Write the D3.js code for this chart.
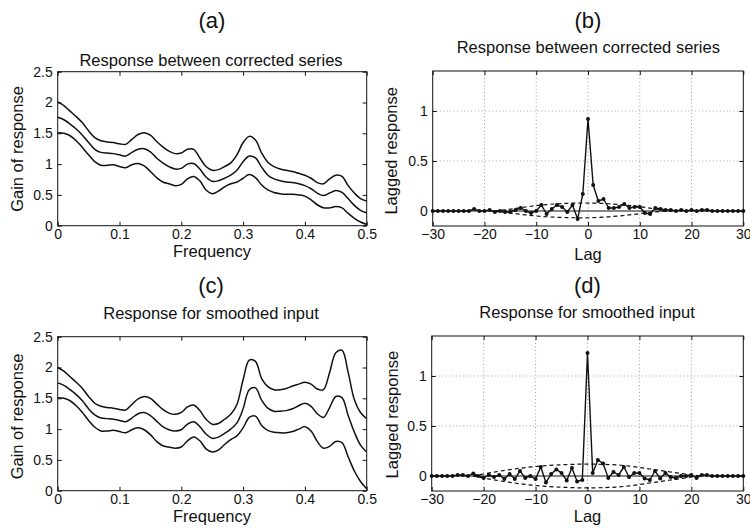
<!DOCTYPE html>
<html>
<head>
<meta charset="utf-8">
<script src="https://cdn.jsdelivr.net/npm/d3@7/dist/d3.min.js"></script>
<style>
  html, body { margin: 0; padding: 0; background: #fff; }
  svg { display: block; }
  text { font-family: "Liberation Sans", Arial, Helvetica, sans-serif; fill: #111; }
</style>
</head>
<body>
<svg id="chart" width="750" height="531"></svg>
<script>
// ---------------- DATA ----------------
const freq = [0,0.01,0.02,0.03,0.04,0.05,0.06,0.07,0.08,0.09,0.10,0.11,0.12,0.13,0.14,0.15,0.16,0.17,0.18,0.19,0.20,
  0.21,0.22,0.23,0.24,0.25,0.26,0.27,0.28,0.29,0.30,0.31,0.32,0.33,0.34,0.35,0.36,0.37,0.38,0.39,0.40,
  0.41,0.42,0.43,0.44,0.45,0.46,0.47,0.48,0.49,0.50];

const gainAUpper = [2.01,1.95,1.86,1.77,1.67,1.54,1.43,1.38,1.36,1.35,1.33,1.32,1.40,1.48,1.51,1.47,1.37,1.28,1.21,1.17,1.18,
  1.24,1.24,1.10,0.96,0.90,0.91,0.96,1.02,1.15,1.35,1.45,1.39,1.18,1.03,0.96,0.92,0.90,0.88,0.85,0.82,
  0.77,0.70,0.68,0.76,0.82,0.80,0.65,0.53,0.44,0.40];
const gainAMid = [1.76,1.72,1.65,1.57,1.47,1.35,1.24,1.19,1.18,1.17,1.15,1.13,1.19,1.24,1.25,1.20,1.10,1.02,0.96,0.92,0.93,
  1.00,1.01,0.92,0.79,0.72,0.73,0.77,0.82,0.90,1.04,1.13,1.10,0.95,0.82,0.76,0.73,0.71,0.70,0.68,0.65,
  0.60,0.53,0.49,0.53,0.57,0.54,0.44,0.33,0.25,0.21];
const gainALower = [1.51,1.50,1.46,1.38,1.27,1.15,1.04,0.98,0.98,0.99,0.96,0.94,0.99,1.01,0.97,0.88,0.78,0.71,0.68,0.65,0.67,
  0.76,0.80,0.73,0.58,0.52,0.56,0.63,0.68,0.71,0.77,0.83,0.78,0.66,0.58,0.54,0.52,0.51,0.51,0.50,0.48,
  0.42,0.34,0.29,0.29,0.31,0.29,0.20,0.12,0.06,0.02];

const gainCUpper = [2.00,1.94,1.85,1.76,1.66,1.53,1.42,1.37,1.35,1.34,1.32,1.31,1.40,1.49,1.53,1.50,1.41,1.32,1.26,1.24,1.27,
  1.36,1.39,1.30,1.16,1.08,1.09,1.16,1.24,1.40,1.80,2.12,2.10,1.82,1.69,1.64,1.64,1.66,1.70,1.73,1.76,
  1.73,1.65,1.64,1.92,2.24,2.28,1.92,1.48,1.27,1.17];
const gainCMid = [1.75,1.71,1.64,1.56,1.46,1.33,1.23,1.18,1.17,1.16,1.14,1.12,1.18,1.25,1.27,1.22,1.13,1.04,0.99,0.97,0.99,
  1.08,1.12,1.04,0.92,0.85,0.87,0.93,1.00,1.10,1.33,1.64,1.67,1.47,1.34,1.29,1.29,1.30,1.33,1.38,1.42,
  1.37,1.25,1.19,1.35,1.53,1.51,1.22,0.95,0.74,0.63];
const gainCLower = [1.51,1.50,1.46,1.38,1.27,1.14,1.03,0.97,0.97,0.98,0.96,0.94,0.99,1.02,0.99,0.91,0.80,0.73,0.71,0.69,0.71,
  0.81,0.87,0.81,0.68,0.63,0.66,0.75,0.83,0.89,1.02,1.19,1.21,1.06,0.98,0.95,0.94,0.94,0.96,1.00,1.04,
  0.97,0.80,0.69,0.72,0.80,0.78,0.55,0.32,0.15,0.03];

const lags = [-30,-29,-28,-27,-26,-25,-24,-23,-22,-21,-20,-19,-18,-17,-16,-15,-14,-13,-12,-11,-10,
  -9,-8,-7,-6,-5,-4,-3,-2,-1,0,1,2,3,4,5,6,7,8,9,10,11,12,13,14,15,16,17,18,19,20,
  21,22,23,24,25,26,27,28,29,30];

const respB = [0,0,0,0,0,0,0,0,0.02,0.00,0.00,0.01,-0.01,0.00,-0.01,-0.01,0.01,0.03,0.00,-0.02,0.00,
  0.06,-0.03,0.02,0.06,0.04,-0.01,0.06,-0.08,0.17,0.92,0.26,0.10,0.12,0.03,0.03,0.04,0.07,0.03,0.04,0.04,
  -0.02,-0.03,0.03,0.02,0.01,0.01,0.00,0.01,0.00,0.01,0.00,0.01,0.01,0.00,0,0,0,0,0,0];

const respD = [0,0,0,0,0,0.01,0.01,0.00,0.025,0.00,-0.02,0.01,-0.01,0.01,-0.03,0.02,-0.03,0.05,-0.02,0.00,-0.03,
  0.09,-0.065,0.02,0.065,0.03,-0.045,0.08,-0.055,-0.04,1.23,0.03,0.16,0.125,-0.02,0.04,0.01,0.09,-0.01,0.03,0.03,
  -0.025,-0.04,0.05,-0.025,0.03,-0.01,-0.02,0.00,0.00,0.01,-0.02,0.01,0.01,0.00,0,0,0,0,0,0];

const boundLagsB = [-18,-16,-14,-12,-10,-8,-6,-4,-2,0,2,4,6,8,10,12,14,16];
const boundBUpper = [0.0,0.012,0.026,0.04,0.055,0.065,0.072,0.077,0.08,0.08,0.078,0.073,0.065,0.055,0.045,0.028,0.012,0.0];
const boundBLower = [0.0,-0.013,-0.027,-0.04,-0.05,-0.058,-0.063,-0.066,-0.068,-0.068,-0.065,-0.058,-0.05,-0.04,-0.026,-0.012,-0.004,0.0];

const boundLagsD = [-22,-20,-18,-16,-14,-12,-10,-8,-6,-4,-2,0,2,4,6,8,10,12,14,16,18,20,22];
const boundDUpper = [0.0,0.02,0.04,0.055,0.07,0.085,0.095,0.105,0.11,0.115,0.118,0.12,0.118,0.115,0.11,0.10,0.085,0.07,0.055,0.04,0.025,0.01,0.0];
const boundDLower = [0.0,-0.02,-0.04,-0.055,-0.07,-0.085,-0.095,-0.105,-0.11,-0.115,-0.118,-0.12,-0.118,-0.115,-0.11,-0.10,-0.085,-0.07,-0.055,-0.04,-0.025,-0.01,0.0];

const gainTicksY = [0,0.5,1,1.5,2,2.5];
const freqTicks = [0,0.1,0.2,0.3,0.4,0.5];
const lagTicksX = [-30,-20,-10,0,10,20,30];
const lagTicksY = [0,0.5,1];

// ---------------- DRAW ----------------
const svg = d3.select("#chart");
const fmt = d => (d < 0 ? "\u2212" + Math.abs(d) : String(d));

function frame(g, x, y, xTicks, yTicks) {
  const [x0, x1] = x.range(), [y0, y1] = y.range();
  const tl = 4;
  g.append("g").attr("transform", `translate(0,${y0})`)
    .call(d3.axisBottom(x).tickValues(xTicks).tickSizeInner(-tl).tickSizeOuter(0).tickPadding(3.3).tickFormat(fmt))
    .call(a => a.select(".domain").remove())
    .call(a => a.selectAll("text").attr("font-size", 14).style("font-family", "Liberation Sans, Arial, sans-serif"));
  g.append("g").attr("transform", `translate(0,${y1})`)
    .call(d3.axisTop(x).tickValues(xTicks).tickSizeInner(-tl).tickSizeOuter(0).tickFormat(""))
    .call(a => a.select(".domain").remove());
  g.append("g").attr("transform", `translate(${x0},0)`)
    .call(d3.axisLeft(y).tickValues(yTicks).tickSizeInner(-tl).tickSizeOuter(0).tickPadding(5).tickFormat(fmt))
    .call(a => a.select(".domain").remove())
    .call(a => a.selectAll("text").attr("font-size", 14).style("font-family", "Liberation Sans, Arial, sans-serif"));
  g.append("g").attr("transform", `translate(${x1},0)`)
    .call(d3.axisRight(y).tickValues(yTicks).tickSizeInner(-tl).tickSizeOuter(0).tickFormat(""))
    .call(a => a.select(".domain").remove());
  g.selectAll(".tick line").attr("stroke", "#111");
  g.append("rect").attr("x", x0).attr("y", y1).attr("width", x1 - x0).attr("height", y0 - y1)
    .attr("fill", "none").attr("stroke", "#111").attr("stroke-width", 1);
}

function labels(cfg) {
  svg.append("text").attr("x", cfg.tx).attr("y", cfg.ty).attr("text-anchor", "middle")
    .attr("font-size", 22).text(cfg.letter);
  svg.append("text").attr("x", cfg.sx).attr("y", cfg.sy).attr("text-anchor", "middle")
    .attr("font-size", 16.5).text(cfg.subtitle);
  svg.append("text").attr("x", cfg.xlx).attr("y", cfg.xly).attr("text-anchor", "middle")
    .attr("font-size", 16.5).text(cfg.xlabel);
  svg.append("text").attr("transform", `translate(${cfg.ylx},${cfg.yly}) rotate(-90)`)
    .attr("text-anchor", "middle").attr("font-size", 16.5).text(cfg.ylabel);
}

function gainPanel(box, series, cfg) {
  const g = svg.append("g");
  const x = d3.scaleLinear().domain([0, 0.5]).range([box.l, box.r]);
  const y = d3.scaleLinear().domain([0, 2.5]).range([box.b, box.t]);
  const line = d3.line().x((d, i) => x(freq[i])).y(d => y(d)).curve(d3.curveCatmullRom);
  const clipId = "clip" + cfg.letter.replace(/\W/g, "");
  svg.append("clipPath").attr("id", clipId).append("rect")
    .attr("x", box.l).attr("y", box.t).attr("width", box.r - box.l).attr("height", box.b - box.t);
  series.forEach(s => {
    g.append("path").datum(s).attr("d", line).attr("fill", "none")
      .attr("stroke", "#111").attr("stroke-width", 1.5).attr("clip-path", `url(#${clipId})`);
  });
  frame(g, x, y, freqTicks, gainTicksY);
  labels(cfg);
}

function lagPanel(box, resp, bLags, bUp, bLo, cfg) {
  const g = svg.append("g");
  const x = d3.scaleLinear().domain([-30, 30]).range([box.l, box.r]);
  const y = d3.scaleLinear().domain([-0.15, 1.4]).range([box.b, box.t]);
  const grid = g.append("g").attr("stroke", "#888").attr("stroke-width", 0.8).attr("stroke-dasharray", "1,2.5");
  lagTicksX.slice(1, -1).forEach(t => grid.append("line").attr("x1", x(t)).attr("x2", x(t)).attr("y1", box.t).attr("y2", box.b));
  lagTicksY.slice(1).forEach(t => grid.append("line").attr("x1", box.l).attr("x2", box.r).attr("y1", y(t)).attr("y2", y(t)));
  g.append("line").attr("x1", x(-30)).attr("x2", x(30)).attr("y1", y(0)).attr("y2", y(0))
    .attr("stroke", "#111").attr("stroke-width", 1);
  const bl = d3.line().x((d, i) => x(bLags[i])).y(d => y(d)).curve(d3.curveBasis);
  [bUp, bLo].forEach(s => g.append("path").datum(s).attr("d", bl).attr("fill", "none")
    .attr("stroke", "#111").attr("stroke-width", 1.2).attr("stroke-dasharray", "4,3"));
  const rl = d3.line().x((d, i) => x(lags[i])).y(d => y(d));
  g.append("path").datum(resp).attr("d", rl).attr("fill", "none").attr("stroke", "#111").attr("stroke-width", 1.4);
  g.selectAll("circle.pt").data(resp).join("circle").attr("class", "pt")
    .attr("cx", (d, i) => x(lags[i])).attr("cy", d => y(d)).attr("r", 2).attr("fill", "#111");
  frame(g, x, y, lagTicksX, lagTicksY);
  labels(cfg);
}

gainPanel({l: 57.7, r: 366.7, t: 71.7, b: 225.7}, [gainAUpper, gainAMid, gainALower], {
  letter: "(a)", tx: 212, ty: 27.5,
  subtitle: "Response between corrected series", sx: 211, sy: 65.5,
  xlabel: "Frequency", xlx: 212, xly: 257,
  ylabel: "Gain of response", ylx: 22.5, yly: 149
});
lagPanel({l: 432.7, r: 743.3, t: 71, b: 226}, respB, boundLagsB, boundBUpper, boundBLower, {
  letter: "(b)", tx: 588, ty: 27.5,
  subtitle: "Response between corrected series", sx: 588.3, sy: 52.7,
  xlabel: "Lag", xlx: 588, xly: 260,
  ylabel: "Lagged response", ylx: 397, yly: 150.8
});
gainPanel({l: 57.7, r: 366.7, t: 336.7, b: 490.7}, [gainCUpper, gainCMid, gainCLower], {
  letter: "(c)", tx: 211, ty: 292.5,
  subtitle: "Response for smoothed input", sx: 211, sy: 319.3,
  xlabel: "Frequency", xlx: 212, xly: 522,
  ylabel: "Gain of response", ylx: 22.5, yly: 416.5
});
lagPanel({l: 431.7, r: 743.3, t: 336, b: 491}, respD, boundLagsD, boundDUpper, boundDLower, {
  letter: "(d)", tx: 587.5, ty: 292.5,
  subtitle: "Response for smoothed input", sx: 587, sy: 318.3,
  xlabel: "Lag", xlx: 587.5, xly: 522,
  ylabel: "Lagged response", ylx: 398, yly: 414.7
});
</script>
</body>
</html>
